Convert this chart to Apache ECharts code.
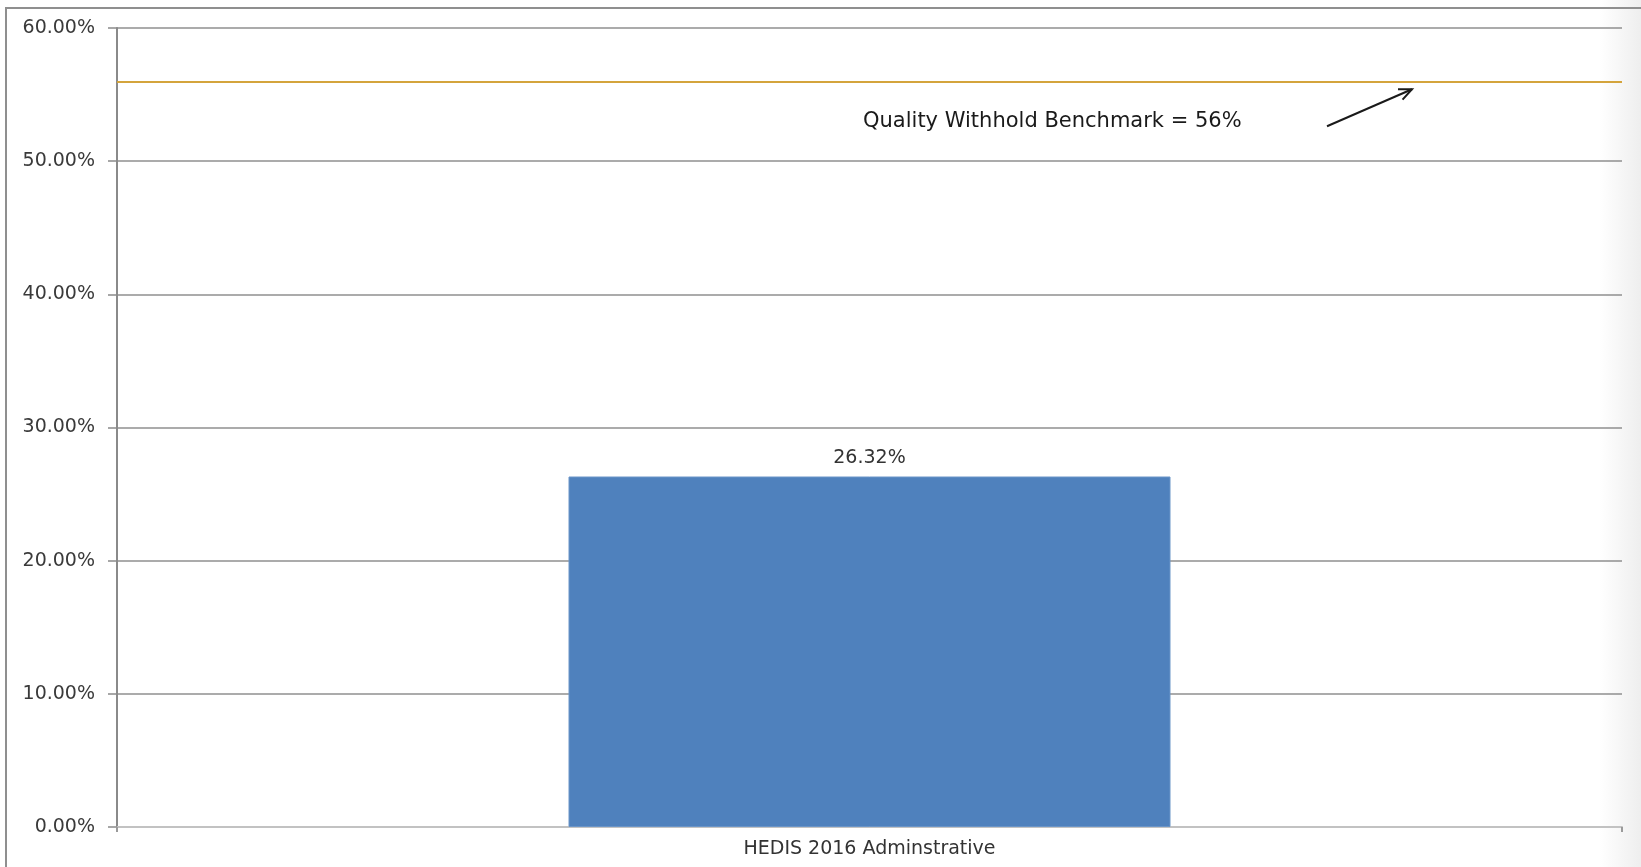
<!DOCTYPE html>
<html>
<head>
<meta charset="utf-8">
<title>HEDIS 2016 Administrative</title>
<script src="https://cdn.jsdelivr.net/npm/echarts@6/dist/echarts.min.js"></script>
<style>
  html, body { margin: 0; padding: 0; background: #ffffff; }
  #chart { width: 1641px; height: 867px; }
</style>
</head>
<body>
<div id="chart"></div>
<script>
// Measure categories and rates (percent)
const categories = ['HEDIS 2016 Adminstrative'];
const rates = [26.32];
// Quality withhold benchmark (percent)
const benchmark = 56;
const benchmarkText = 'Quality Withhold Benchmark = 56%';
// Value axis ticks
const yMin = 0;
const yMax = 60;
const yStep = 10;

const FONT = '"DejaVu Sans", sans-serif';

const chart = echarts.init(document.getElementById('chart'), null, { renderer: 'canvas' });

const option = {
  animation: false,
  backgroundColor: '#ffffff',
  grid: { left: 117, right: 19, top: 28, bottom: 40, containLabel: false },
  xAxis: {
    type: 'category',
    data: categories,
    axisLine: { show: true, lineStyle: { color: '#c2c2c2', width: 2 } },
    axisTick: { show: true, length: 5, lineStyle: { color: '#9a9a9a', width: 2 } },
    axisLabel: { color: '#333333', fontFamily: FONT, fontSize: 19, margin: 13 }
  },
  yAxis: {
    type: 'value',
    min: yMin,
    max: yMax,
    interval: yStep,
    axisLine: { show: true, lineStyle: { color: '#8a8a8a', width: 2 } },
    axisTick: { show: true, length: 9, lineStyle: { color: '#8a8a8a', width: 1.5 } },
    axisLabel: {
      color: '#3a3a3a', fontFamily: FONT, fontSize: 19, margin: 22,
      formatter: v => v.toFixed(2) + '%'
    },
    splitLine: { show: true, lineStyle: { color: '#8f8f8f', width: 1.6 } }
  },
  series: [{
    type: 'bar',
    data: rates,
    barWidth: '40%',
    itemStyle: { color: '#4f81bd', borderColor: '#6b95c8', borderWidth: 1 },
    label: {
      show: true, position: 'top', distance: 9,
      color: '#333333', fontFamily: FONT, fontSize: 19,
      formatter: p => p.value.toFixed(2) + '%'
    },
    markLine: {
      silent: true,
      symbol: 'none',
      label: { show: false },
      lineStyle: { color: '#d4a43c', width: 2, type: 'solid' },
      data: [{ yAxis: benchmark }]
    }
  }]
};
chart.setOption(option);

// Annotation text and arrow, placed relative to the benchmark line
function drawAnnotation() {
  const yLine = chart.convertToPixel({ yAxisIndex: 0 }, benchmark);
  const textY = yLine + 43;
  const tip = [1412, yLine + 8];
  const tail = [1327, yLine + 45];
  const ang = Math.atan2(tip[1] - tail[1], tip[0] - tail[0]);
  const headLen = 14, spread = 0.42;
  const h1 = [tip[0] - headLen * Math.cos(ang - spread), tip[1] - headLen * Math.sin(ang - spread)];
  const h2 = [tip[0] - headLen * Math.cos(ang + spread), tip[1] - headLen * Math.sin(ang + spread)];
  chart.setOption({
    graphic: [
      {
        // faint shading along the right edge of the slide
        type: 'rect', silent: true, z: -1,
        shape: { x: 1600, y: 0, width: 41, height: 867 },
        style: {
          fill: {
            type: 'linear', x: 0, y: 0, x2: 1, y2: 0,
            colorStops: [
              { offset: 0, color: 'rgba(238,238,238,0)' },
              { offset: 1, color: 'rgba(238,238,238,1)' }
            ]
          }
        }
      },
      {
        type: 'text', left: 863, top: textY - 13, silent: true,
        style: { text: benchmarkText, fill: '#1a1a1a', font: '21px ' + FONT }
      },
      {
        type: 'polyline', silent: true,
        shape: { points: [tail, tip] },
        style: { stroke: '#1a1a1a', lineWidth: 2 }
      },
      {
        type: 'polyline', silent: true,
        shape: { points: [h1, tip, h2] },
        style: { stroke: '#1a1a1a', lineWidth: 2, fill: null }
      },
      {
        type: 'rect', silent: true, z: 100,
        shape: { x: 6, y: 8, width: 1700, height: 900 },
        style: { fill: null, stroke: '#8f8f8f', lineWidth: 2 }
      }
    ]
  });
}
drawAnnotation();
</script>
</body>
</html>
